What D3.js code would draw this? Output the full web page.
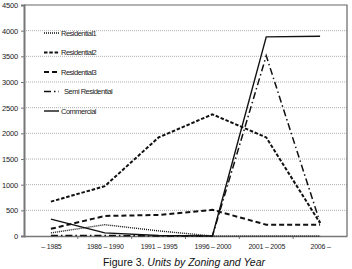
<!DOCTYPE html>
<html lang="en">
<head>
  <meta charset="UTF-8">
  <title>Units by Zoning and Year</title>
  <script src="https://d3js.org/d3.v7.min.js"></script>
  <style>
    body { margin: 0; background: #fff; }
    svg { display: block; font-family: "Liberation Sans Narrow", "Liberation Sans", Arial, sans-serif; }
    .tick text { font-size: 7px; fill: #222; letter-spacing: -0.2px; }
    .y-axis .tick text { font-size: 7.5px; }
    .legend text { font-size: 7.5px; fill: #222; letter-spacing: -0.5px; }
    .caption { font-family: "Liberation Sans", Arial, sans-serif; font-size: 10.5px; fill: #111; text-anchor: middle; }
  </style>
</head>
<body>
  <div id="chart"></div>
  <script>
    const years = ["– 1985", "1986 – 1990", "1991 – 1995", "1996 – 2000", "2001 – 2005", "2006 –"];
    const residential1 = [60, 220, 100, 0, 0, 0];
    const residential2 = [670, 970, 1920, 2370, 1920, 250];
    const residential3 = [140, 390, 410, 510, 220, 220];
    const semiResidential = [10, 10, 0, 0, 3510, 260];
    const commercial = [330, 60, 10, 0, 3880, 3890];
    const yTicks = [0, 500, 1000, 1500, 2000, 2500, 3000, 3500, 4000, 4500];

    const seriesNames = ["Residential1", "Residential2", "Residential3", "Semi Residential", "Commercial"];
    const seriesValues = [residential1, residential2, residential3, semiResidential, commercial];
    const styles = [
      { dash: "1,1", width: 1.4 },
      { dash: "3.5,1.8", width: 2 },
      { dash: "5,3", width: 2 },
      { dash: "7,3,1.5,3", width: 1.5 },
      { dash: null, width: 1.4 }
    ];

    const width = 352, height = 269;
    const mLeft = 24, mRight = 347, mTop = 5, mBottom = 236;

    const svg = d3.select("#chart").append("svg")
      .attr("width", width)
      .attr("height", height);

    const x = d3.scalePoint().domain(years).range([mLeft, mRight]).padding(0.5);
    const xBand = d3.scaleBand().domain(years).range([mLeft, mRight]);
    const y = d3.scaleLinear().domain([0, 4500]).range([mBottom, mTop]);

    // gridlines
    svg.append("g")
      .selectAll("line")
      .data(yTicks.slice(1, -1))
      .join("line")
      .attr("x1", mLeft).attr("x2", mRight)
      .attr("y1", d => y(d)).attr("y2", d => y(d))
      .attr("stroke", "#999")
      .attr("stroke-width", 0.8)
      .attr("stroke-dasharray", "1,1");

    // frame (top and right)
    svg.append("path")
      .attr("d", `M${mLeft},${y(4500)}H${mRight}V${mBottom}`)
      .attr("fill", "none")
      .attr("stroke", "#666")
      .attr("stroke-width", 1.2);

    // y axis
    const yAxis = svg.append("g")
      .attr("class", "y-axis")
      .attr("transform", `translate(${mLeft},0)`)
      .call(d3.axisLeft(y).tickValues(yTicks).tickSize(3).tickFormat(d3.format("d")));
    yAxis.select(".domain").attr("stroke", "#777").attr("stroke-width", 2);
    yAxis.selectAll(".tick line").attr("stroke", "#777");
    yAxis.selectAll(".tick text").attr("x", -6);

    // x axis
    const xAxis = svg.append("g")
      .attr("transform", `translate(0,${mBottom})`)
      .call(d3.axisBottom(x).tickSize(0).tickPadding(7));
    xAxis.select(".domain").attr("stroke", "#777").attr("stroke-width", 1.5);
    xAxis.selectAll(".tick text").attr("dy", "0.9em");
    xAxis.append("g")
      .selectAll("line")
      .data(years.slice(1))
      .join("line")
      .attr("x1", d => xBand(d)).attr("x2", d => xBand(d))
      .attr("y1", 0).attr("y2", 3)
      .attr("stroke", "#777");

    // lines
    const line = d3.line()
      .x((d, i) => x(years[i]))
      .y(d => y(d));

    svg.append("g")
      .selectAll("path")
      .data(seriesValues)
      .join("path")
      .attr("d", d => line(d))
      .attr("fill", "none")
      .attr("stroke", "#111")
      .attr("stroke-width", (d, i) => styles[i].width)
      .attr("stroke-dasharray", (d, i) => styles[i].dash);

    // legend
    const legend = svg.append("g").attr("class", "legend");
    const items = legend.selectAll("g")
      .data(seriesNames)
      .join("g")
      .attr("transform", (d, i) => `translate(44,${33 + i * 19.5})`);
    items.append("line")
      .attr("x1", 0).attr("x2", 15)
      .attr("stroke", "#111")
      .attr("stroke-width", (d, i) => styles[i].width)
      .attr("stroke-dasharray", (d, i) => styles[i].dash);
    items.append("text")
      .attr("x", (d, i) => i === 3 ? 20 : 17)
      .attr("dy", "0.35em")
      .text(d => d);

    // caption
    const cap = svg.append("text")
      .attr("class", "caption")
      .attr("x", 184)
      .attr("y", 266);
    cap.append("tspan").text("Figure 3. ");
    cap.append("tspan").attr("font-style", "italic").text("Units by Zoning and Year");
  </script>
</body>
</html>
